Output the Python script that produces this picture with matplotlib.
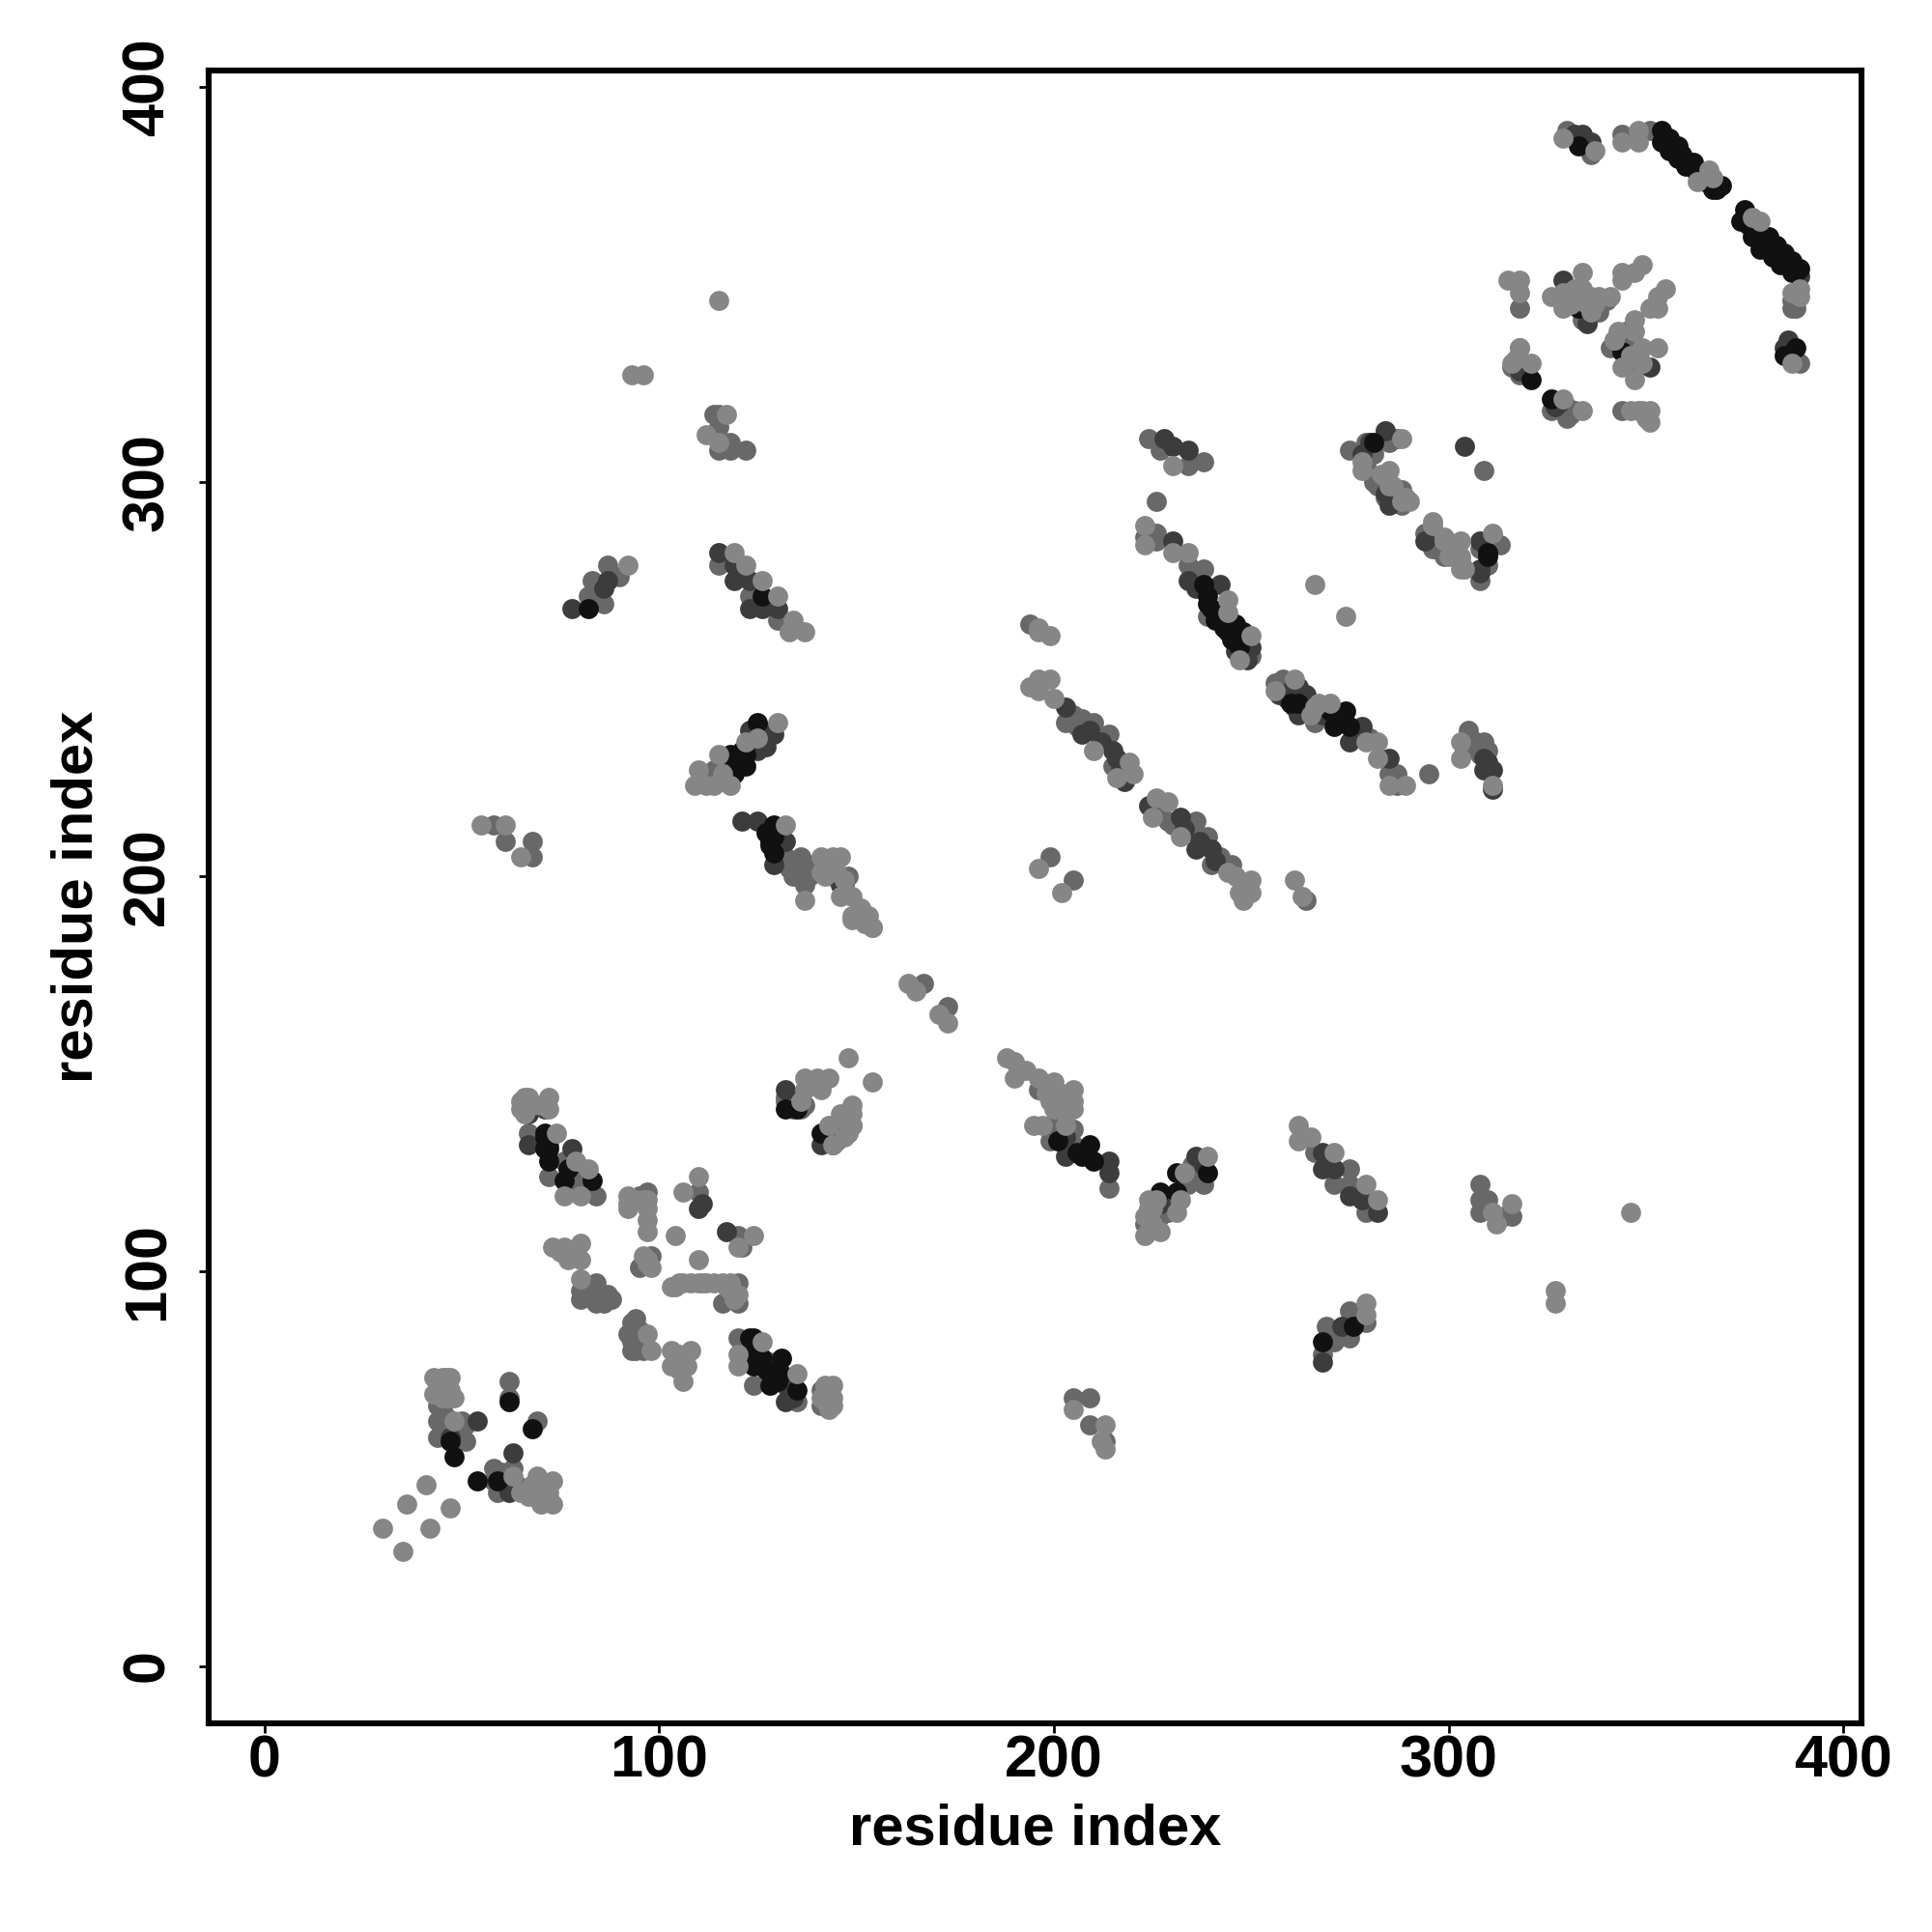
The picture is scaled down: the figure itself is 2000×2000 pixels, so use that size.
import matplotlib
matplotlib.use('Agg')
from matplotlib import pyplot as plt

# residue pairs (x, y), grouped by how dark the point is
black_pts = [(59,47),(71,135),(72,128),(76,123),(83,123),(71,131),(124,76),(123,83),(131,78),(128,71),(131,74),(135,70),
             (132,141),(135,141),(68,60),(62,67),(48,53),(54,47),
             (201,133),(207,129),(209,132),(210,128),(227,120),(231,125),(231,120),(239,125),(268,82),(276,86),
             (118,231),(121,228),(121,232),(125,239),(129,213),(129,206),(126,271),(141,135),
             (238,274),(239,271),(246,264),(244,262),(248,262),(241,265),(262,244),(270,242),(274,242),(271,238),(275,238),
             (310,282),(344,333),(333,344),(326,321),(321,326),(388,334),(385,332),
             (354,389),(354,386),(356,387),(356,384),(358,385),(358,382),(360,380),(362,381),(367,374),(369,375),
             (375,369),(374,366),(377,362),(381,362),(379,359),(383,360),(382,357),(385,358),(384,355),(387,356),(387,353),(389,354),
             (333,385),(82,268),
             (122,228),(120,229),(119,226),(122,231),(128,208),(129,210),(127,211),(128,209),(77,126),(71,134),(72,131),(124,80),(124,83),
             (126,78),(127,75),(128,74),(129,73),(130,72),
             (355,386),(357,385),(359,383),(361,381),(363,378),(365,376),(368,374),
             (376,365),(378,363),(380,361),(382,359),(384,357),(386,355),(388,353),
             (47,57),(206,130),(281,310),(310,281),(239,269),(240,268),(243,263),(245,260),(247,258),(260,244)]
dark_pts = [(47,58),(63,54),(62,44),(54,62),(132,67),(144,132),(141,132),(132,146),(146,135),(124,78),(78,131),(67,132),
            (71,141),(67,140),(117,110),(111,117),(110,116),(203,129),(214,128),(214,125),(227,117),(236,129),
            (268,130),(268,126),(271,126),(275,119),(278,118),(282,115),(268,77),(273,86),
            (78,268),(86,273),(87,275),(115,282),(119,279),(119,275),(123,275),(123,268),(126,268),(130,268),
            (118,227),(125,232),(129,236),(125,214),(121,214),(132,209),(129,203),(146,198),
            (230,285),(234,275),(242,274),(250,258),(249,255),(207,236),(215,232),(218,224),(232,215),(236,207),(240,207),
            (260,247),(262,248),(264,246),(263,242),(278,238),(275,234),(285,230),(309,230),(309,227),(311,227),(311,222),
            (224,218),(203,243),(304,309),(308,278),(230,309),(228,311),(234,308),(284,313),(280,310),
            (329,351),(351,329),(318,328),(335,340),(332,388),(334,388),(336,386),(386,336),(385,334),(389,352),(200,145),
            (278,307),(284,297),(285,294),(294,285),(308,285),(308,277),
            (133,70),(134,68),(127,233),(128,236),(126,237),(123,237),(209,237),(212,234),(216,230),(217,227),
            (233,212),(237,209),(241,204),(203,134),(238,127),(236,273),(248,259),(246,257),(257,246),(259,245),(261,243),(262,241),
            (272,240),(268,241),(310,229),(386,333),(319,328),(320,328),(327,319),(328,320)]
mid_pts = [(58,50),(59,44),(63,50),(69,43),(44,66),(44,62),(44,58),(51,61),(51,57),(62,72),(62,68),(69,62),
           (67,135),(72,132),(76,128),(72,124),(79,123),(84,119),(120,83),(128,77),(124,71),(132,71),(135,67),(141,70),(141,66),
           (97,120),(98,104),(96,102),(110,120),(121,106),(120,109),(80,93),(84,97),(84,92),(87,94),(86,92),
           (120,97),(116,92),(120,92),(94,88),(93,85),(93,82),(94,80),(132,143),(149,137),(144,136),
           (167,173),(173,167),(196,146),(201,143),(199,137),(205,136),(199,133),(205,132),(214,121),
           (223,112),(227,114),(238,122),(236,125),(266,130),(275,122),(271,122),(275,126),(279,115),
           (308,122),(308,118),(310,118),(308,115),(316,114),(314,114),(268,79),(269,86),(271,82),(275,83),(275,90),(279,87),
           (205,68),(209,68),(209,61),(213,57),
           (114,317),(115,317),(115,314),(118,310),(115,308),(118,308),(122,308),(86,269),(82,271),(83,275),(90,276),(87,279),
           (115,279),(123,271),(130,265),(114,227),(132,205),(133,202),(136,205),(137,202),(137,198),(144,200),(148,200),(61,209),(68,209),(68,205),(58,213),
           (226,295),(223,286),(226,287),(226,285),(234,279),(238,278),(250,256),(239,266),(194,264),
           (203,239),(207,240),(210,239),(211,236),(214,236),(215,228),(229,214),(236,214),(236,211),(239,210),(240,203),(243,203),(245,203),
           (264,194),(199,205),(205,199),(256,249),(258,250),(266,239),(285,226),(287,226),(287,223),(295,226),(305,237),(307,234),(309,234),
           (294,287),(297,283),(313,284),(310,285),(308,283),(310,279),(308,275),(309,303),
           (275,308),(279,304),(287,311),(281,300),(284,296),(288,298),(227,308),(234,304),(238,305),(224,311),
           (330,389),(336,383),(344,388),(351,389),(387,344),(388,344),(389,330),(318,344),(326,318),(329,318),(330,316),(332,318),
           (334,341),(338,343),(340,346),(344,318),(345,338),(344,336),(341,334),(347,334),(347,329),(318,334),(318,327),
           (279,310),(284,313),(285,310),(281,307),(281,301),(282,299),(288,294),(287,296),(297,286),(296,283),(299,281),(301,282),
           (95,119),(95,101),(80,95),(81,94),(84,95),(85,93),(88,93),(92,84),(93,87),(95,85),(96,82),(96,80),(93,80),
           (45,65),(46,63),(46,60),(47,62),(49,60),(50,62),(50,59),(58,47),(60,49),(61,46),(60,45),(62,46),(64,46),
           (132,144),(134,143),(134,141),(136,141),(137,142),(143,134),(145,133),(121,80),(122,78),(112,225),(113,226),
           (138,200),(139,203),(134,200),(135,203),(147,198),(205,241),(206,238),(213,234),(218,226),(227,216),(230,213),(234,213),(238,208),(242,205),
           (201,135),(204,131),(228,119),(229,115),(235,127),(237,124),(234,122),(278,236),(280,235),(304,232),(306,233),(308,231),(310,232),
           (388,346),(387,346),(316,329),(345,334),(345,331),(330,319),(331,317)]
light_pts = [(30,35),(35,29),(36,41),(42,35),(41,46),(47,40),(63,48),(65,44),(69,48),(73,47),(73,41),(70,41),
             (43,73),(47,73),(43,69),(48,68),(48,62),(46,73),(66,144),(72,144),(67,144),(65,141),(74,135),(79,128),(82,126),
             (76,119),(80,119),(92,119),(92,116),(97,116),(97,113),(97,110),(97,103),(106,120),(110,124),(104,109),(124,109),(120,106),(110,103),
             (73,106),(76,106),(80,107),(77,103),(80,103),(80,98),(103,96),(105,97),(111,97),(116,97),(120,94),
             (97,84),(98,80),(103,80),(108,80),(103,76),(107,76),(106,72),(126,82),(120,79),(120,76),(135,74),(144,71),(144,66),(144,68),(141,68),
             (148,154),(154,148),(137,149),(140,149),(143,149),(137,146),(141,146),(136,143),(149,142),(146,140),(149,140),(149,137),(143,137),(144,132),
             (163,173),(165,171),(171,165),(173,163),(154,187),(152,188),(149,189),
             (188,154),(190,153),(193,151),(190,149),(196,149),(200,148),(205,146),(205,143),(200,141),(205,141),(195,137),(197,137),(203,137),
             (224,118),(223,114),(223,109),(227,110),(232,118),(231,115),(233,125),(239,129),(262,137),(265,134),(262,133),(271,130),(279,122),(282,118),
             (311,115),(312,112),(316,117),(346,115),(327,95),(327,92),(279,92),(279,89),(205,65),(213,61),(212,57),(213,55),
             (115,346),(93,327),(96,327),(117,317),(112,312),(115,310),(92,279),(119,282),(122,279),(126,275),(130,271),(134,265),(133,262),(137,262),
             (109,223),(112,223),(114,223),(110,227),(115,231),(118,223),(122,234),(125,235),(130,239),(132,213),(137,194),
             (141,205),(141,201),(144,205),(146,205),(146,195),(149,195),(151,192),(149,190),(153,190),(154,187),(55,213),(61,213),(65,205),
             (223,289),(223,284),(230,282),(234,282),(244,270),(244,267),(250,261),(247,255),(196,263),(196,262),(199,261),
             (194,248),(196,250),(199,250),(196,247),(200,245),(210,232),(219,229),(216,225),(220,226),
             (226,220),(229,219),(225,215),(232,210),(246,200),(250,199),(247,196),(250,196),(248,194),(261,199),(263,195),(196,202),(202,196),
             (256,247),(261,250),(267,244),(270,244),(282,234),(279,234),(282,230),(285,223),(289,223),(303,234),(303,230),(311,223),
             (266,274),(274,266),(296,290),(299,286),(303,285),(303,281),(304,278),(300,281),(311,287),
             (278,305),(283,302),(285,299),(288,295),(290,295),(230,304),
             (329,387),(337,384),(344,386),(348,389),(348,386),(366,379),(367,377),(363,376),(377,367),(379,366),(389,349),(387,348),(387,330),
             (315,351),(318,351),(318,348),(326,347),(329,348),(329,344),(334,353),(332,349),(334,349),(336,343),(338,347),(341,347),
             (344,353),(349,355),(347,353),(344,351),(355,349),(353,347),(351,344),(353,344),
             (347,341),(347,338),(342,336),(349,334),(353,334),(344,329),(349,330),(347,326),
             (318,334),(316,330),(321,330),(329,321),(334,318),(348,318),(351,318),(351,315),
             (288,311),(278,303),(285,303),(286,299),(289,296),(296,289),(299,285),(303,280),(303,278),
             (92,117),(94,118),(96,118),(97,118),(96,104),(97,102),(98,101),
             (104,96),(106,97),(108,97),(110,97),(112,97),(114,97),(117,96),(118,95),(119,93),(118,97),
             (79,104),(78,105),(75,105),(104,78),(105,79),(106,78),(105,75),
             (44,71),(45,73),(45,70),(46,68),(47,70),(45,68),(66,44),(67,43),(68,46),(70,46),(71,44),(72,44),
             (147,134),(148,137),(148,135),(65,143),(66,140),(68,142),(70,142),(72,141),(142,71),(143,69),(142,67),(143,65),
             (116,226),(116,224),(142,200),(143,202),(145,201),(147,199),(198,145),(199,143),(202,145),(203,140),(203,142),
             (224,116),(224,110),(225,112),(225,116),(226,118),(244,201),(265,241),(266,243),
             (331,345),(333,347),(335,345),(336,347),(334,346),(337,345),(342,336),(343,338),(346,332),(347,331),(348,332),
             (317,331),(346,318),(349,318),(350,316),(389,347)]

grey_black = '#111111'
grey_dark = '#3c3c3c'
grey_mid = '#686868'
grey_light = '#868686'

xticks = [0, 100, 200, 300, 400]
yticks = [0, 100, 200, 300, 400]

plt.rcParams['font.family'] = ['Liberation Sans', 'DejaVu Sans']
plt.rcParams['font.weight'] = 'bold'

fig = plt.figure(figsize=(10, 10), dpi=200)
ax = fig.add_axes([0.1082, 0.108, 0.8553, 0.8555])

for pts, col in [(mid_pts, grey_mid), (dark_pts, grey_dark), (black_pts, grey_black), (light_pts, grey_light)]:
    ax.scatter([p[0] for p in pts], [p[1] for p in pts], s=56, c=col, linewidths=0)

ax.set_xlim(-14, 404.6)
ax.set_ylim(-14.55, 404.2)
ax.set_xticks(xticks)
ax.set_yticks(yticks)
ax.tick_params(length=3.6, width=1, labelsize=22)
ax.tick_params(axis='x', pad=0.7)
ax.tick_params(axis='y', pad=8.7)
for lab in ax.get_yticklabels():
    lab.set_rotation(90)
    lab.set_va('center')
for s in ax.spines.values():
    s.set_linewidth(2.2)
ax.set_xlabel('residue index', fontsize=21.5, fontweight='bold', labelpad=5)
ax.set_ylabel('residue index', fontsize=21.5, fontweight='bold', labelpad=6.5)

plt.savefig('out.png', dpi=200)
